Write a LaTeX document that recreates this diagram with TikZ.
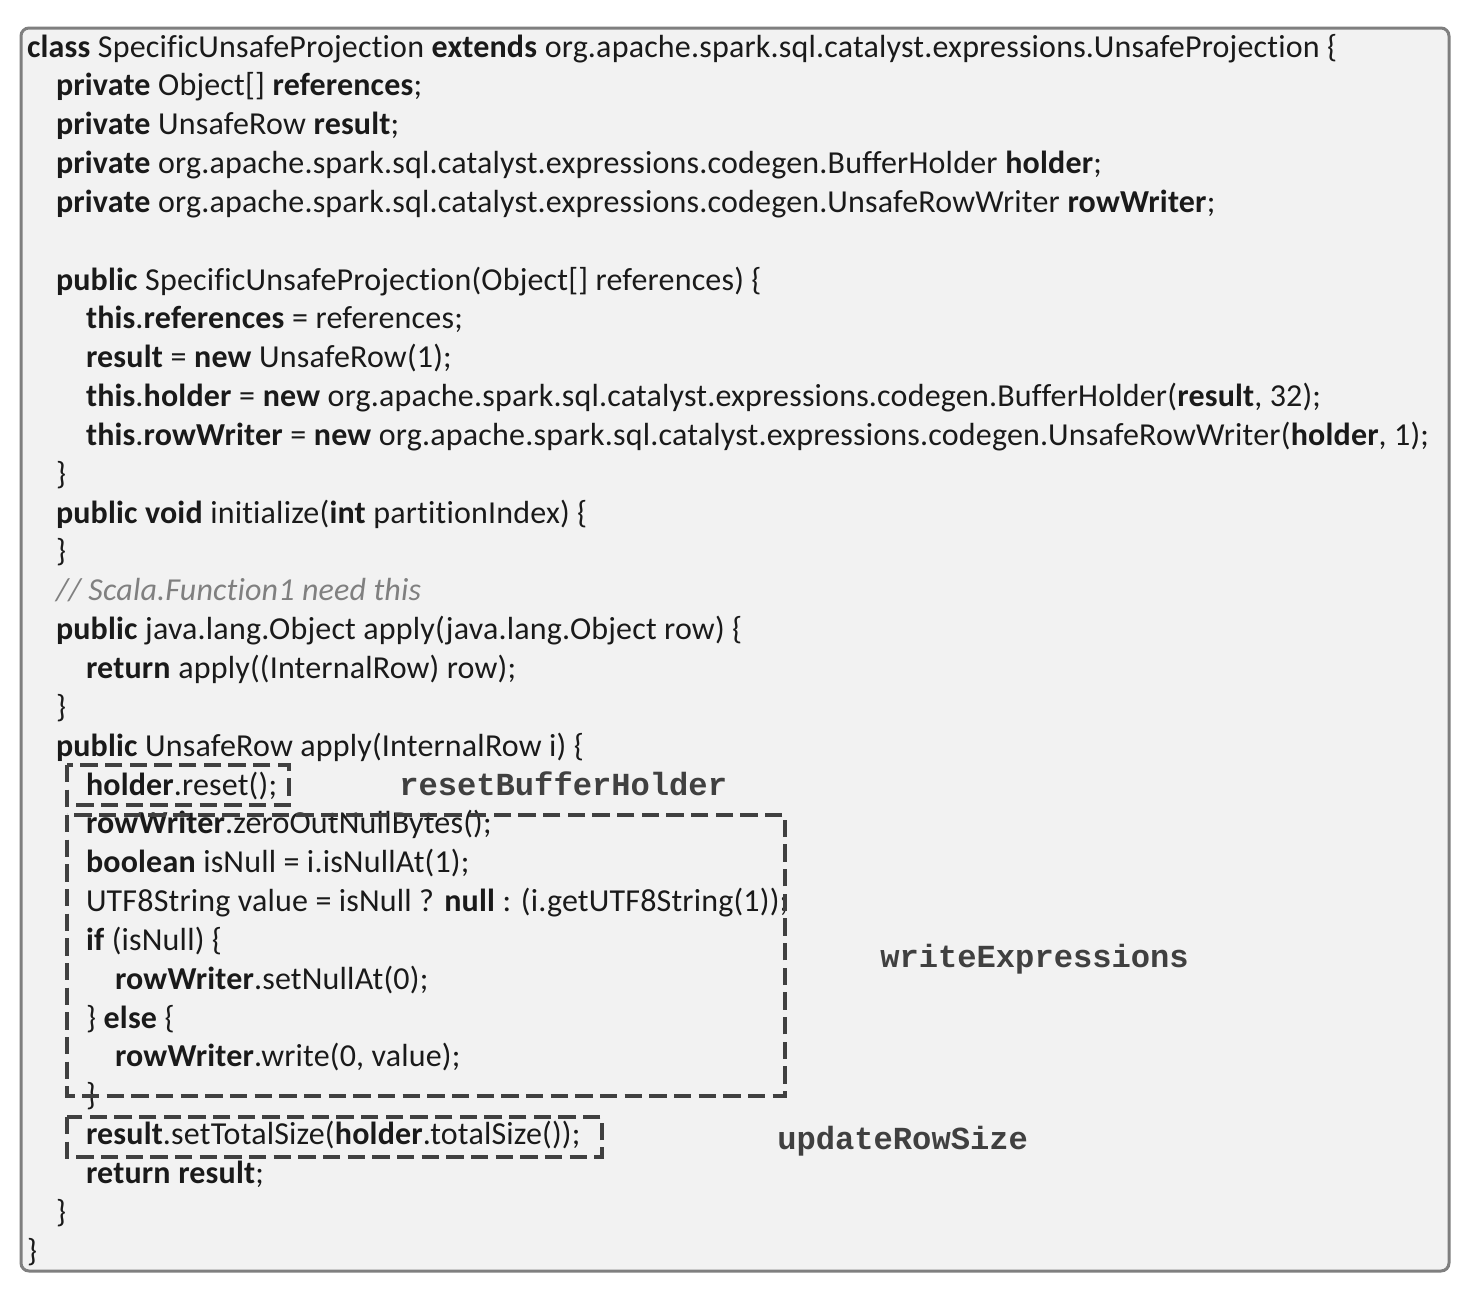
\documentclass[tikz,border=0pt]{standalone}
\usepackage{fontspec}
\setmainfont{Carlito}[Ligatures={NoCommon}, LetterSpace=0.6]
\newfontfamily\labfont{Liberation Mono}
\definecolor{boxfill}{HTML}{F2F2F2}
\definecolor{boxline}{HTML}{7F7F7F}
\definecolor{codetext}{HTML}{1A1A1A}
\definecolor{cmt}{HTML}{808080}
\definecolor{dashc}{HTML}{404040}
\definecolor{labc}{HTML}{404040}
\newcommand{\kw}[1]{\textbf{#1}}
\tikzset{
  code/.style={anchor=base west, inner sep=0pt, outer sep=0pt, text=codetext, font=\fontsize{24}{28}\selectfont},
  lab/.style={anchor=base west, inner sep=0pt, text=labc, font=\labfont\bfseries\fontsize{24.1}{28}\selectfont},
  dbox/.style={draw=dashc, line width=2.5pt, dash pattern=on 13pt off 5.5pt},
}
\begin{document}
\begin{tikzpicture}[x=0.75pt,y=-0.75pt]
\useasboundingbox (0,0) rectangle (1468,1292);
\fill[white] (0,0) rectangle (1468,1292);
\draw[fill=boxfill, draw=boxline, line width=2.25pt, rounded corners=6pt] (21,28) rectangle (1449,1271);
% code lines
\node[code] (l1) at (27,57) {\kw{class} SpecificUnsafeProjection \kw{extends} org.apache.spark.sql.catalyst.expressions.UnsafeProjection \{};
\node[code] (l2) at (56,95.8) {\kw{private} Object[] \kw{references};};
\node[code] (l3) at (56,134.7) {\kw{private} UnsafeRow \kw{result};};
\node[code] (l4) at (56,173.5) {\kw{private} org.apache.spark.sql.catalyst.expressions.codegen.BufferHolder \kw{holder};};
\node[code] (l5) at (56,212.4) {\kw{private} org.apache.spark.sql.catalyst.expressions.codegen.UnsafeRowWriter \kw{rowWriter};};
\node[code] (l7) at (56,290.0) {\kw{public} SpecificUnsafeProjection(Object[] references) \{};
\node[code] (l8) at (86,328.9) {\kw{this}.\kw{references} = references;};
\node[code] (l9) at (86,367.7) {\kw{result} = \kw{new} UnsafeRow(1);};
\node[code] (l10) at (86,406.6) {\kw{this}.\kw{holder} = \kw{new} org.apache.spark.sql.catalyst.expressions.codegen.BufferHolder(\kw{result}, 32);};
\node[code] (l11) at (86,445.4) {\kw{this}.\kw{rowWriter} = \kw{new} org.apache.spark.sql.catalyst.expressions.codegen.UnsafeRowWriter(\kw{holder}, 1);};
\node[code] (l12) at (56,484.2) {\}};
\node[code] (l13) at (56,523.1) {\kw{public void} initialize(\kw{int} partitionIndex) \{};
\node[code] (l14) at (56,561.9) {\}};
\node[code, text=cmt] (l15) at (56,600.8) {\textit{// Scala.Function1 need this}};
\node[code] (l16) at (56,639.6) {\kw{public} java.lang.Object apply(java.lang.Object row) \{};
\node[code] (l17) at (86,678.4) {\kw{return} apply((InternalRow) row);};
\node[code] (l18) at (56,717.3) {\}};
\node[code] (l19) at (56,756.1) {\kw{public} UnsafeRow apply(InternalRow i) \{};
\node[code] (l20) at (86,795.0) {\kw{holder}.reset();};
\node[code] (l21) at (86,833.8) {\kw{rowWriter}.zeroOutNullBytes();};
\node[code] (l22) at (86,872.6) {\kw{boolean} isNull = i.isNullAt(1);};
\node[code] (l23) at (86,911.5) {UTF8String value = isNull ? \kw{null} : (i.getUTF8String(1));};
\node[code] (l24) at (86,950.3) {\kw{if} (isNull) \{};
\node[code] (l25) at (115,989.2) {\kw{rowWriter}.setNullAt(0);};
\node[code] (l26) at (86,1028.0) {\} \kw{else} \{};
\node[code] (l27) at (115,1066.8) {\kw{rowWriter}.write(0, value);};
\node[code] (l28) at (86,1105.7) {\}};
\node[code] (l29) at (86,1144.5) {\kw{result}.setTotalSize(\kw{holder}.totalSize());};
\node[code] (l30) at (86,1183.4) {\kw{return} \kw{result};};
\node[code] (l31) at (56,1222.2) {\}};
\node[code] (l32) at (27,1261.0) {\}};
% dashed boxes
\draw[dbox] (67,765) rectangle (289,805);
\draw[dbox] (67,815) rectangle (785,1096);
\draw[dbox] (67,1117) rectangle (602,1157);
% labels
\node[lab] (r1) at (399,795) {resetBufferHolder};
\node[lab] (r2) at (880,967) {writeExpressions};
\node[lab] (r3) at (777,1149) {updateRowSize};
\end{tikzpicture}
\end{document}
